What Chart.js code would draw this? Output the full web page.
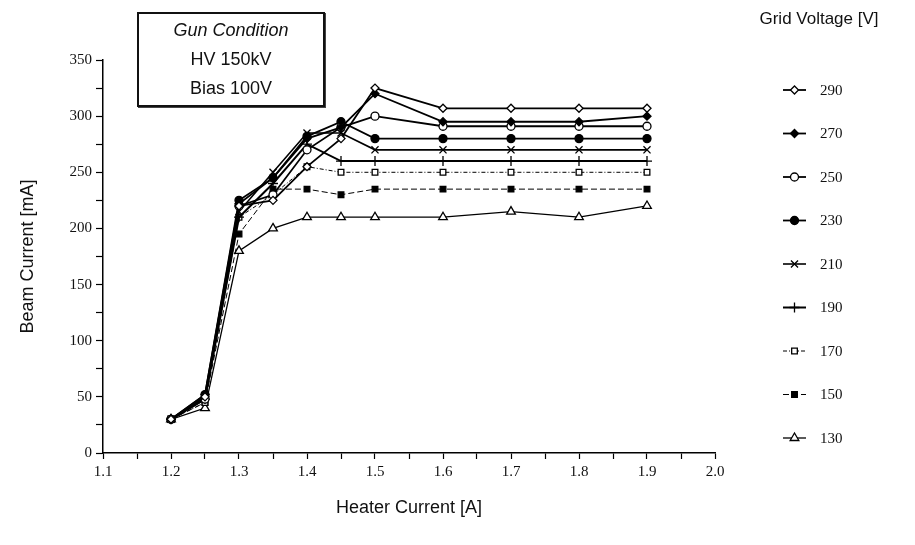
<!DOCTYPE html>
<html>
<head>
<meta charset="utf-8">
<script src="https://cdn.jsdelivr.net/npm/chart.js@4.4.1/dist/chart.umd.min.js"></script>
<style>
  html, body { margin: 0; padding: 0; background: #fff; }
  #wrap { position: relative; width: 915px; height: 545px; }
  #box {
    position: absolute; left: 137px; top: 12px; width: 184px; height: 89px;
    border: 2px solid #111; box-shadow: 1px 1px 0 #444;
    font-family: "Liberation Sans", Arial, sans-serif; font-size: 18px; color: #111;
    text-align: center; line-height: 29px; padding-top: 2px; box-sizing: content-box;
  }
</style>
</head>
<body>
<div id="wrap">
  <canvas id="grafico" width="915" height="545"></canvas>
  <div id="box"><i>Gun Condition</i><br>HV 150kV<br>Bias 100V</div>
</div>
<script>
// heater current [A]
const corriente = [1.2, 1.25, 1.3, 1.35, 1.4, 1.45, 1.5, 1.6, 1.7, 1.8, 1.9];
// beam current [mA] per grid voltage
const v290 = [30, 50, 220, 225, 255, 280, 325, 307, 307, 307, 307];
const v270 = [30, 52, 222, 245, 280, 290, 320, 295, 295, 295, 300];
const v250 = [30, 48, 220, 230, 270, 290, 300, 291, 291, 291, 291];
const v230 = [30, 52, 225, 245, 282, 295, 280, 280, 280, 280, 280];
const v210 = [30, 50, 215, 250, 285, 285, 270, 270, 270, 270, 270];
const v190 = [30, 48, 210, 240, 275, 260, 260, 260, 260, 260, 260];
const v170 = [30, 45, 210, 230, 255, 250, 250, 250, 250, 250, 250];
const v150 = [30, 45, 195, 235, 235, 230, 235, 235, 235, 235, 235];
const v130 = [30, 40, 180, 200, 210, 210, 210, 210, 215, 210, 220];
const etiquetas = ['290', '270', '250', '230', '210', '190', '170', '150', '130'];

const series = [v290, v270, v250, v230, v210, v190, v170, v150, v130];
const estilos = [
    { pointStyle: 'rectRot', radius: 4, fill: '#fff', width: 1.8 },
    { pointStyle: 'rectRot', radius: 4, fill: '#000', width: 1.8 },
    { pointStyle: 'circle', radius: 4, fill: '#fff', width: 1.8 },
    { pointStyle: 'circle', radius: 4, fill: '#000', width: 1.8 },
    { pointStyle: 'crossRot', radius: 5, fill: '#000', width: 1.6 },
    { pointStyle: 'cross', radius: 5, fill: '#000', width: 2 },
    { pointStyle: 'rect', radius: 4, fill: '#fff', width: 1, dash: [4, 2, 1, 2] },
    { pointStyle: 'rect', radius: 4, fill: '#000', width: 1, dash: [6, 3] },
    { pointStyle: 'triangle', radius: 5, fill: '#fff', width: 1.3 }
];

const datasets = series.map((s, i) => ({
    label: etiquetas[i],
    data: corriente.map((x, j) => ({ x: x, y: s[j] })),
    borderColor: '#000',
    backgroundColor: estilos[i].fill,
    borderWidth: estilos[i].width,
    borderDash: estilos[i].dash || [],
    pointStyle: estilos[i].pointStyle,
    pointRadius: estilos[i].radius,
    pointBorderWidth: 1.3,
    pointBorderColor: '#000',
    pointBackgroundColor: estilos[i].fill,
    tension: 0
}));

const serif = "'Liberation Serif', 'Times New Roman', serif";
const sans = "'Liberation Sans', Arial, sans-serif";

const leyenda = {
    id: 'leyenda',
    afterDraw(chart) {
        const ctx = chart.ctx;
        ctx.save();
        ctx.fillStyle = '#111';
        ctx.font = '17px ' + sans;
        ctx.textAlign = 'center';
        ctx.textBaseline = 'middle';
        ctx.fillText('Grid Voltage [V]', 819, 19);
        chart.data.datasets.forEach((ds, i) => {
            const y = 90 + i * 43.5;
            ctx.strokeStyle = '#000';
            ctx.lineWidth = ds.borderWidth;
            ctx.setLineDash(ds.borderDash);
            ctx.beginPath();
            ctx.moveTo(783, y);
            ctx.lineTo(806, y);
            ctx.stroke();
            ctx.setLineDash([]);
            ctx.lineWidth = 1.3;
            ctx.fillStyle = ds.pointBackgroundColor;
            Chart.helpers.drawPoint(ctx, {
                pointStyle: ds.pointStyle, radius: ds.pointRadius, rotation: 0, borderWidth: 1.3
            }, 794.5, y);
            ctx.fillStyle = '#111';
            ctx.font = '15px ' + serif;
            ctx.textAlign = 'left';
            ctx.fillText(ds.label, 820, y + 1);
        });
        ctx.restore();
    }
};

const ctx = document.getElementById('grafico').getContext('2d');
const grafico = new Chart(ctx, {
    type: 'line',
    data: { datasets: datasets },
    options: {
        responsive: false,
        animation: false,
        layout: { padding: { top: 60, right: 200, left: 0, bottom: 0 } },
        plugins: { legend: { display: false }, tooltip: { enabled: false } },
        scales: {
            x: {
                type: 'linear', min: 1.1, max: 2.0,
                border: { color: '#000', width: 1.5 },
                grid: { drawOnChartArea: false, color: '#000', tickLength: 6, tickWidth: 1.2 },
                ticks: {
                    stepSize: 0.05, color: '#111', autoSkip: false, maxRotation: 0,
                    font: { family: serif, size: 15 }, padding: 4,
                    callback: v => (Math.round(v * 100) % 10 === 0 ? v.toFixed(1) : '')
                },
                title: {
                    display: true, text: 'Heater Current [A]', color: '#111',
                    font: { family: sans, size: 18 }, padding: { top: 0, bottom: 26 }
                },
                afterFit: s => { s.height = 92; }
            },
            y: {
                min: 0, max: 350,
                border: { color: '#000', width: 1.5 },
                grid: { drawOnChartArea: false, color: '#000', tickLength: 7, tickWidth: 1.2 },
                ticks: {
                    stepSize: 25, color: '#111', autoSkip: false,
                    font: { family: serif, size: 15 }, padding: 4,
                    callback: v => (v % 50 === 0 ? v : '')
                },
                title: {
                    display: true, text: 'Beam Current [mA]', color: '#111',
                    font: { family: sans, size: 18 }, padding: { top: 17, bottom: 0 }
                },
                afterFit: s => { s.width = 103; }
            }
        }
    },
    plugins: [leyenda]
});
</script>
</body>
</html>
